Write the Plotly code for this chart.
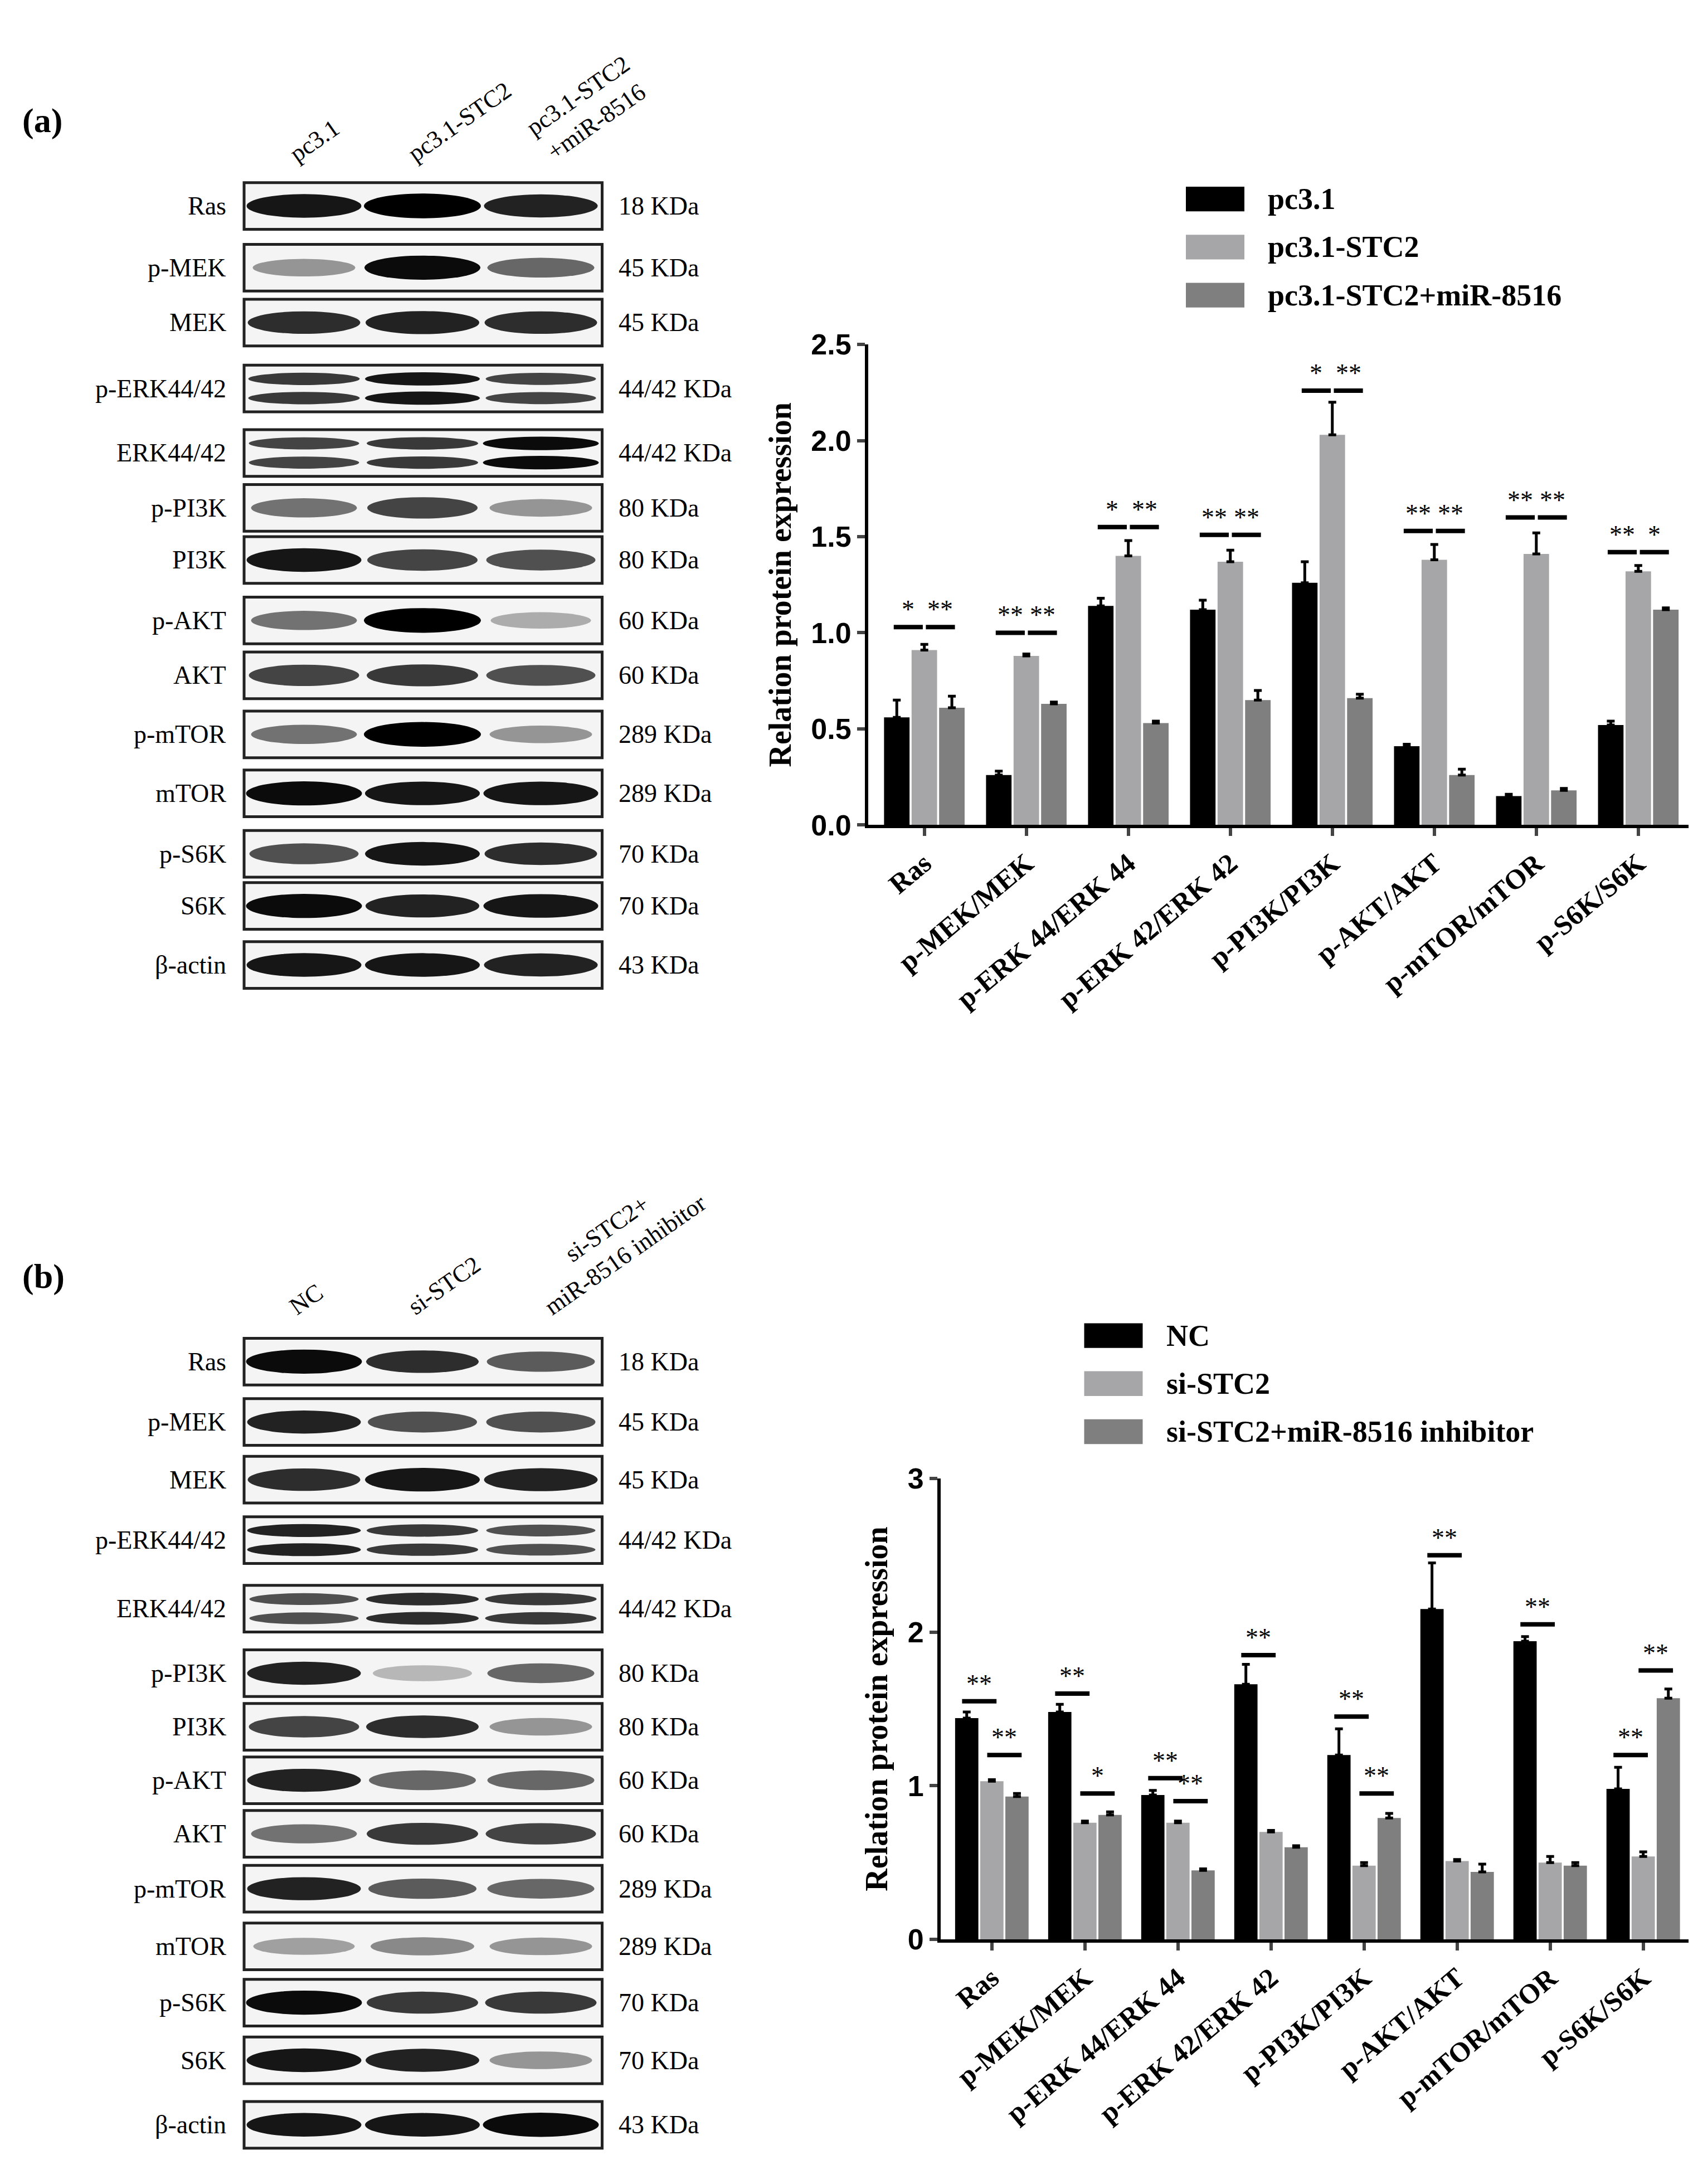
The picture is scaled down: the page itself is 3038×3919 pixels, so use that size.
import plotly.graph_objects as go

W, H = 3038, 3919
S = 2.5  # display->full scale
FONT = "Liberation Serif"

cats = ["Ras", "p-MEK/MEK", "p-ERK 44/ERK 44", "p-ERK 42/ERK 42", "p-PI3K/PI3K",
        "p-AKT/AKT", "p-mTOR/mTOR", "p-S6K/S6K"]

# Panel a
a_names = ["pc3.1", "pc3.1-STC2", "pc3.1-STC2+miR-8516"]
a_vals = [[0.56, 0.26, 1.14, 1.12, 1.26, 0.41, 0.15, 0.52],
          [0.91, 0.88, 1.40, 1.37, 2.03, 1.38, 1.41, 1.32],
          [0.61, 0.63, 0.53, 0.65, 0.66, 0.26, 0.18, 1.12]]
a_errs = [[0.09, 0.02, 0.04, 0.05, 0.11, 0.01, 0.01, 0.02],
          [0.03, 0.01, 0.08, 0.06, 0.17, 0.08, 0.11, 0.03],
          [0.06, 0.01, 0.01, 0.05, 0.02, 0.03, 0.01, 0.01]]
a_sig1 = ["*", "**", "*", "**", "*", "**", "**", "**"]
a_sig2 = ["**", "**", "**", "**", "**", "**", "**", "*"]
a_sig_y = [1.03, 1.00, 1.55, 1.51, 2.26, 1.53, 1.60, 1.42]

# Panel b
b_names = ["NC", "si-STC2", "si-STC2+miR-8516 inhibitor"]
b_vals = [[1.44, 1.48, 0.94, 1.66, 1.20, 2.15, 1.94, 0.98],
          [1.03, 0.76, 0.76, 0.70, 0.48, 0.51, 0.50, 0.54],
          [0.93, 0.81, 0.45, 0.60, 0.79, 0.44, 0.48, 1.57]]
b_errs = [[0.04, 0.05, 0.03, 0.13, 0.17, 0.30, 0.03, 0.14],
          [0.01, 0.01, 0.01, 0.01, 0.02, 0.01, 0.04, 0.03],
          [0.02, 0.02, 0.01, 0.01, 0.03, 0.05, 0.02, 0.06]]
b_sig1 = ["**", "**", "**", "**", "**", "**", "**", "**"]
b_sig1_y = [1.55, 1.60, 1.05, 1.85, 1.45, 2.50, 2.05, 1.20]
b_sig2 = ["**", "*", "**", "", "**", "", "", "**"]
b_sig2_y = [1.20, 0.95, 0.90, None, 0.95, None, None, 1.75]

colors = ["#000000", "#a6a6a8", "#7f7f7f"]

# Blots
a_rows = ["Ras", "p-MEK", "MEK", "p-ERK44/42", "ERK44/42", "p-PI3K", "PI3K", "p-AKT", "AKT",
          "p-mTOR", "mTOR", "p-S6K", "S6K", "β-actin"]
a_kda = ["18 KDa", "45 KDa", "45 KDa", "44/42 KDa", "44/42 KDa", "80 KDa", "80 KDa", "60 KDa",
         "60 KDa", "289 KDa", "289 KDa", "70 KDa", "70 KDa", "43 KDa"]
a_row_y = [135, 180, 220, 268, 315, 355, 393, 437, 477, 520, 563, 607, 645, 688]
a_nbands = [1, 1, 1, 2, 2, 1, 1, 1, 1, 1, 1, 1, 1, 1]
a_band = [[0.9, 1.0, 0.85], [0.35, 0.95, 0.55], [0.8, 0.85, 0.8], [0.75, 0.9, 0.7], [0.7, 0.75, 0.95],
          [0.5, 0.7, 0.35], [0.9, 0.7, 0.65], [0.5, 1.0, 0.25], [0.7, 0.75, 0.65],
          [0.5, 1.0, 0.35], [0.95, 0.9, 0.9], [0.65, 0.9, 0.8], [0.95, 0.85, 0.9], [0.9, 0.9, 0.85]]
a_lanes = ["pc3.1", "pc3.1-STC2", "pc3.1-STC2<br>+miR-8516"]

b_kda = ["18 KDa", "45 KDa", "45 KDa", "44/42 KDa", "44/42 KDa", "80 KDa", "80 KDa", "60 KDa",
         "60 KDa", "289 KDa", "289 KDa", "70 KDa", "70 KDa", "43 KDa"]
b_row_y = [977, 1021, 1063, 1107, 1157, 1204, 1243, 1282, 1321, 1361, 1403, 1444, 1486, 1533]
b_band = [[0.95, 0.8, 0.6], [0.85, 0.65, 0.65], [0.8, 0.9, 0.85], [0.85, 0.75, 0.65],
          [0.65, 0.8, 0.75], [0.85, 0.2, 0.55], [0.7, 0.8, 0.35], [0.85, 0.55, 0.55],
          [0.5, 0.75, 0.7], [0.85, 0.6, 0.55], [0.3, 0.4, 0.35], [0.95, 0.75, 0.75],
          [0.9, 0.85, 0.35], [0.9, 0.9, 0.95]]
b_lanes = ["NC", "si-STC2", "si-STC2+<br>miR-8516 inhibitor"]

fig = go.Figure()
offs = [-0.27, 0.0, 0.27]
BW = 0.25


def px(x):
    return x * S / W


def py(y):
    return 1 - y * S / H


def add_chart(names, vals, errs, xa, ya):
    for i in range(3):
        fig.add_trace(go.Bar(
            x=[k + offs[i] for k in range(len(cats))], y=vals[i], width=BW, name=names[i],
            marker=dict(color=colors[i], line=dict(width=0)), showlegend=False,
            error_y=dict(type="data", array=errs[i], symmetric=False, arrayminus=[0]*len(cats),
                         color="black", thickness=5, width=7),
            xaxis=xa, yaxis=ya))


add_chart(a_names, a_vals, a_errs, "x", "y")
add_chart(b_names, b_vals, b_errs, "x2", "y2")

shapes, annots = [], []


def bracket(xr, yr, x0, x1, y, txt):
    shapes.append(dict(type="line", xref=xr, yref=yr, x0=x0, x1=x1, y0=y, y1=y,
                       line=dict(color="black", width=8)))
    annots.append(dict(xref=xr, yref=yr, x=(x0 + x1) / 2, y=y, text=txt, showarrow=False,
                       yanchor="bottom", yshift=4, font=dict(size=46, family=FONT, color="black")))


for k in range(8):
    bracket("x", "y", k + offs[0] - 0.03, k + offs[1] - 0.015, a_sig_y[k], a_sig1[k])
    bracket("x", "y", k + offs[1] + 0.015, k + offs[2] + 0.03, a_sig_y[k], a_sig2[k])
    bracket("x2", "y2", k + offs[0] - 0.05, k + offs[1] + 0.05, b_sig1_y[k], b_sig1[k])
    if b_sig2[k]:
        bracket("x2", "y2", k + offs[1] - 0.05, k + offs[2] + 0.05, b_sig2_y[k], b_sig2[k])


def blot(rows, kda, row_y, bands, nbands, lanes, head_y, label):
    lane_x = [215, 300, 385]
    for name, kd, yc, bd, nb in zip(rows, kda, row_y, bands, nbands):
        h = 34
        shapes.append(dict(type="rect", xref="paper", yref="paper", x0=px(172), x1=px(429),
                           y0=py(yc + h / 2), y1=py(yc - h / 2), fillcolor="#f4f4f4",
                           line=dict(color="#222", width=5), layer="below"))
        centers = [yc] if nb == 1 else [yc - 7, yc + 7]
        for lx, inten in zip(lane_x, bd):
            g = int(255 * (1 - inten) * 0.9)
            bw = 34 + 8 * inten
            bh = (5 + 4 * inten) if nb == 1 else (3 + 2 * inten)
            for c in centers:
                shapes.append(dict(type="circle", xref="paper", yref="paper", x0=px(lx - bw),
                                   x1=px(lx + bw), y0=py(c + bh), y1=py(c - bh),
                                   fillcolor=f"rgb({g},{g},{g})", line=dict(width=0)))
        annots.append(dict(xref="paper", yref="paper", x=px(160), y=py(yc), text=name,
                           xanchor="right", yanchor="middle", showarrow=False,
                           font=dict(size=46, family=FONT, color="black")))
        annots.append(dict(xref="paper", yref="paper", x=px(440), y=py(yc), text=kd,
                           xanchor="left", yanchor="middle", showarrow=False,
                           font=dict(size=46, family=FONT, color="black")))
    for lx, t in zip(lane_x, lanes):
        annots.append(dict(xref="paper", yref="paper", x=px(lx - 15), y=py(head_y), text=t,
                           textangle=-35, xanchor="left", yanchor="bottom", showarrow=False,
                           font=dict(size=44, family=FONT, color="black")))
    annots.append(dict(xref="paper", yref="paper", x=px(12), y=py(row_y[0] - 62), text=f"<b>{label}</b>",
                       xanchor="left", yanchor="middle", showarrow=False,
                       font=dict(size=62, family=FONT, color="black")))


blot(a_rows, a_kda, a_row_y, a_band, a_nbands, a_lanes, 108, "(a)")
blot(a_rows, b_kda, b_row_y, b_band, a_nbands, b_lanes, 948, "(b)")


def legend(names, x, y0, dy):
    for i, n in enumerate(names):
        yc = y0 + i * dy
        shapes.append(dict(type="rect", xref="paper", yref="paper", x0=px(x), x1=px(x + 42),
                           y0=py(yc + 9), y1=py(yc - 9), fillcolor=colors[i], line=dict(width=0)))
        annots.append(dict(xref="paper", yref="paper", x=px(x + 58), y=py(yc), text=f"<b>{n}</b>",
                           xanchor="left", yanchor="middle", showarrow=False,
                           font=dict(size=54, family=FONT, color="black")))


legend(a_names, 848, 130, 35)
legend(b_names, 775, 958, 35)

xfont = dict(size=50, family=FONT, color="black")
yfont = dict(size=52, family="Liberation Sans", color="black")
common_x = dict(tickvals=list(range(8)), ticktext=[f"<b>{c}</b>" for c in cats], tickangle=-40,
                range=[-0.55, 7.55], showline=True, linewidth=6, linecolor="black", ticks="outside",
                tickwidth=6, ticklen=14, tickfont=xfont, showgrid=False, zeroline=False)
common_y = dict(showline=True, linewidth=6, linecolor="black", ticks="outside", tickwidth=6,
                ticklen=14, tickfont=yfont, showgrid=False, zeroline=False,
                title=dict(text="<b>Relation protein expression</b>", standoff=20,
                           font=dict(size=56, family=FONT, color="black")))

fig.update_layout(
    width=W, height=H, margin=dict(l=0, r=0, t=0, b=0),
    paper_bgcolor="white", plot_bgcolor="white", showlegend=False,
    xaxis=dict(domain=[620 * S / W, 1213 * S / W], anchor="y", **common_x),
    yaxis=dict(domain=[py(586), py(236)], anchor="x", range=[0, 2.5],
               tickvals=[0, 0.5, 1, 1.5, 2, 2.5],
               ticktext=["<b>0.0</b>", "<b>0.5</b>", "<b>1.0</b>", "<b>1.5</b>", "<b>2.0</b>", "<b>2.5</b>"],
               **common_y),
    xaxis2=dict(domain=[672 * S / W, 1213 * S / W], anchor="y2", **common_x),
    yaxis2=dict(domain=[py(1398), py(1062)], anchor="x2", range=[0, 3],
                tickvals=[0, 1, 2, 3], ticktext=["<b>0</b>", "<b>1</b>", "<b>2</b>", "<b>3</b>"],
                **common_y),
    shapes=shapes, annotations=annots,
)

fig.write_html("out.html")
